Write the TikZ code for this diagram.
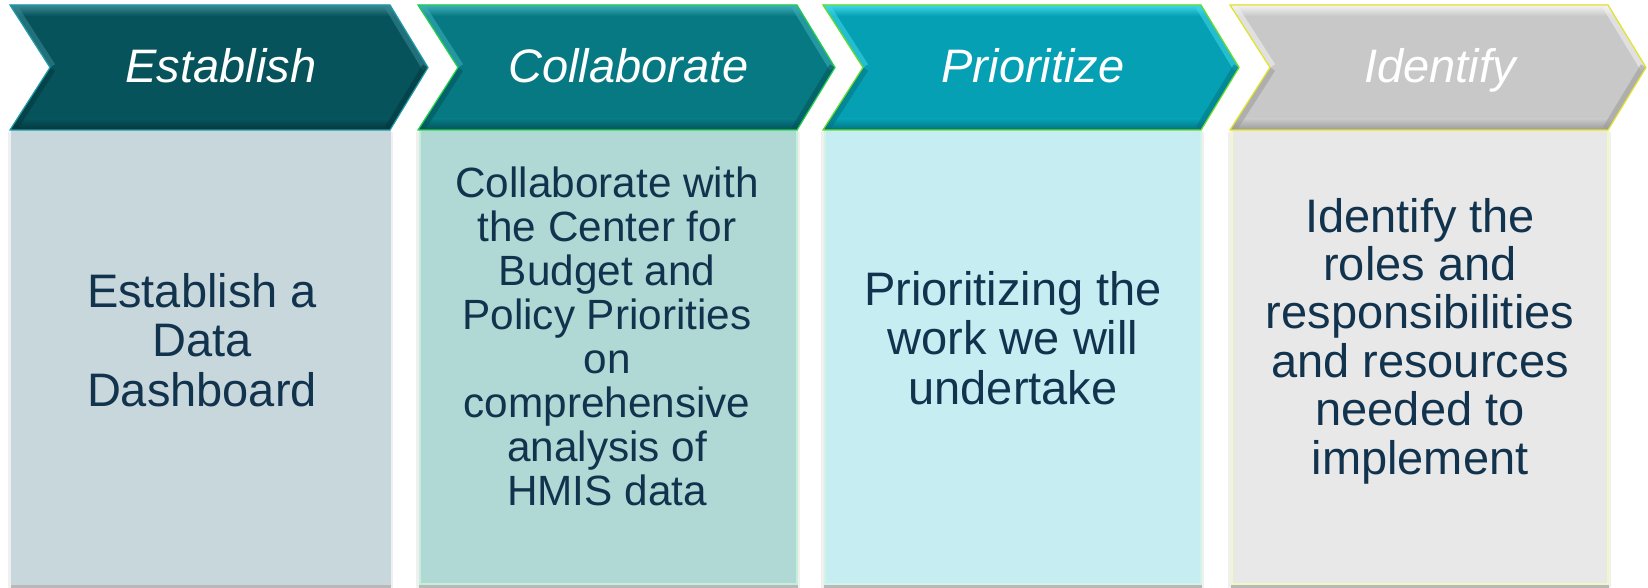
\documentclass[tikz,border=0pt]{standalone}
\usepackage{fontspec}
\setmainfont{Liberation Sans}
\definecolor{fa}{HTML}{06535C}
\definecolor{fb}{HTML}{077983}
\definecolor{fc}{HTML}{05A0B3}
\definecolor{fd}{HTML}{C8C8C8}
\definecolor{la}{HTML}{3A8A94}
\definecolor{lb}{HTML}{3FB0BA}
\definecolor{lc}{HTML}{40D8EA}
\definecolor{ld}{HTML}{F4F4F4}
\definecolor{da}{HTML}{03363C}
\definecolor{db}{HTML}{045259}
\definecolor{dc}{HTML}{047381}
\definecolor{dd}{HTML}{9A9A9A}
\definecolor{ea}{HTML}{1E9CA8}
\definecolor{eb}{HTML}{22D04A}
\definecolor{ec}{HTML}{66DD22}
\definecolor{ed}{HTML}{E2E22A}
\definecolor{ba}{HTML}{C8D7DC}
\definecolor{bb}{HTML}{B0D8D4}
\definecolor{bc}{HTML}{C5EDF2}
\definecolor{bd}{HTML}{E8E8E8}
\definecolor{ka}{HTML}{C8D7DC}
\definecolor{kb}{HTML}{C4F0DA}
\definecolor{kc}{HTML}{D0F4E8}
\definecolor{kd}{HTML}{F2F8C4}
\definecolor{txt}{HTML}{12334D}
\tikzset{
  hdr/.style={font=\fontsize{47}{50}\selectfont\itshape, text=white, inner sep=0pt, anchor=base},
  bodytxt/.style={font=\fontsize{47}{49.5}\selectfont, text=txt, align=center, inner sep=0pt},
  bodysmall/.style={bodytxt, font=\fontsize{42.3}{44}\selectfont},
  bevel/.style={line width=12pt, opacity=0.55},
}
\begin{document}
\begin{tikzpicture}[x=1pt,y=-1pt]
\useasboundingbox (0,0) rectangle (1648,588);
\fill[white] (0,0) rectangle (1648,588);
\foreach \L/\R/\f/\lt/\dk/\ed/\bx/\bk/\n/\t in {
  10/390/fa/la/da/ea/ba/ka/1/Establish,
  418/797/fb/lb/db/eb/bb/kb/2/Collaborate,
  823/1201/fc/lc/dc/ec/bc/kc/3/Prioritize,
  1230/1608/fd/ld/dd/ed/bd/kd/4/Identify}{
  % body shadow and box
  \fill[black!6] ({\L-2},132) rectangle ({\R+3},588);
  \fill[black!28] ({\L+1},584) rectangle ({\R+1},587.5);
  \fill[\bx, draw=\bk, line width=1.2pt] ({\L+2},130) rectangle (\R,584);
  % chevron
  \fill[\f] (\L,5) -- (\R,5) -- ({\R+38},67.5) -- (\R,130) -- (\L,130) -- ({\L+40},67.5) -- cycle;
  \begin{scope}
    \clip (\L,5) -- (\R,5) -- ({\R+38},67.5) -- (\R,130) -- (\L,130) -- ({\L+40},67.5) -- cycle;
    \fill[top color=\lt, bottom color=\f] (\L,5) rectangle ({\R+40},16);
    \fill[top color=\f, bottom color=\dk] (\L,119) rectangle ({\R+40},130);
    \draw[bevel, \lt] (\L,5) -- ({\L+40},67.5);
    \draw[bevel, \dk] ({\L+40},67.5) -- (\L,130);
    \draw[bevel, \lt] (\R,5) -- ({\R+38},67.5);
    \draw[bevel, \dk] ({\R+38},67.5) -- (\R,130);
  \end{scope}
  \draw[\ed, line width=1.2pt, line join=miter] (\L,5) -- (\R,5) -- ({\R+38},67.5) -- (\R,130) -- (\L,130) -- ({\L+40},67.5) -- cycle;
  \node[hdr] (h\n) at ({(\L+\R+38)/2+2},83) {\t};
}
\node[bodytxt] (b1) at (202,340) {Establish a\\Data\\Dashboard};
\node[bodysmall] (b2) at (607,336) {Collaborate with\\the Center for\\Budget and\\Policy Priorities\\on\\comprehensive\\analysis of\\HMIS data};
\node[bodytxt] (b3) at (1013,338) {Prioritizing the\\work we will\\undertake};
\node[bodytxt, font=\fontsize{47}{48.4}\selectfont] (b4) at (1420,341) {Identify the\\roles and\\responsibilities\\and resources\\needed to\\implement};
\end{tikzpicture}
\end{document}
